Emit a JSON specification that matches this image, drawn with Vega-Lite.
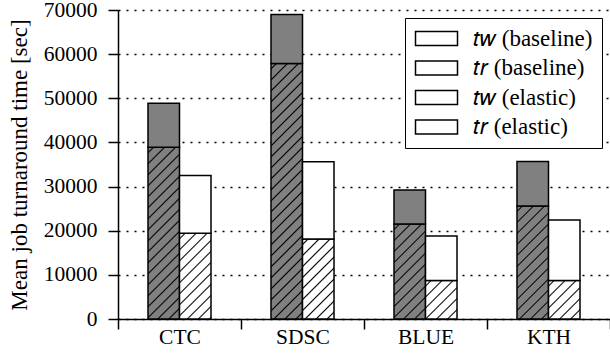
{
  "$schema": "https://vega.github.io/schema/vega-lite/v6.json",
  "width": 492,
  "height": 309,
  "autosize": {"type": "none"},
  "padding": {"left": 118, "top": 10, "right": 0, "bottom": 37},
  "params": [
    {"name": "hatch", "value": [
      {"offset":0.0133,"color":"rgba(0,0,0,0)"},{"offset":0.0183,"color":"#000"},{"offset":0.0233,"color":"rgba(0,0,0,0)"},
      {"offset":0.05,"color":"rgba(0,0,0,0)"},{"offset":0.055,"color":"#000"},{"offset":0.06,"color":"rgba(0,0,0,0)"},
      {"offset":0.0867,"color":"rgba(0,0,0,0)"},{"offset":0.0917,"color":"#000"},{"offset":0.0967,"color":"rgba(0,0,0,0)"},
      {"offset":0.1233,"color":"rgba(0,0,0,0)"},{"offset":0.1283,"color":"#000"},{"offset":0.1333,"color":"rgba(0,0,0,0)"},
      {"offset":0.16,"color":"rgba(0,0,0,0)"},{"offset":0.165,"color":"#000"},{"offset":0.17,"color":"rgba(0,0,0,0)"},
      {"offset":0.1967,"color":"rgba(0,0,0,0)"},{"offset":0.2017,"color":"#000"},{"offset":0.2067,"color":"rgba(0,0,0,0)"},
      {"offset":0.2333,"color":"rgba(0,0,0,0)"},{"offset":0.2383,"color":"#000"},{"offset":0.2433,"color":"rgba(0,0,0,0)"},
      {"offset":0.27,"color":"rgba(0,0,0,0)"},{"offset":0.275,"color":"#000"},{"offset":0.28,"color":"rgba(0,0,0,0)"},
      {"offset":0.3067,"color":"rgba(0,0,0,0)"},{"offset":0.3117,"color":"#000"},{"offset":0.3167,"color":"rgba(0,0,0,0)"},
      {"offset":0.3433,"color":"rgba(0,0,0,0)"},{"offset":0.3483,"color":"#000"},{"offset":0.3533,"color":"rgba(0,0,0,0)"},
      {"offset":0.38,"color":"rgba(0,0,0,0)"},{"offset":0.385,"color":"#000"},{"offset":0.39,"color":"rgba(0,0,0,0)"},
      {"offset":0.4167,"color":"rgba(0,0,0,0)"},{"offset":0.4217,"color":"#000"},{"offset":0.4267,"color":"rgba(0,0,0,0)"},
      {"offset":0.4533,"color":"rgba(0,0,0,0)"},{"offset":0.4583,"color":"#000"},{"offset":0.4633,"color":"rgba(0,0,0,0)"},
      {"offset":0.49,"color":"rgba(0,0,0,0)"},{"offset":0.495,"color":"#000"},{"offset":0.5,"color":"rgba(0,0,0,0)"},
      {"offset":0.5267,"color":"rgba(0,0,0,0)"},{"offset":0.5317,"color":"#000"},{"offset":0.5367,"color":"rgba(0,0,0,0)"},
      {"offset":0.5633,"color":"rgba(0,0,0,0)"},{"offset":0.5683,"color":"#000"},{"offset":0.5733,"color":"rgba(0,0,0,0)"},
      {"offset":0.6,"color":"rgba(0,0,0,0)"},{"offset":0.605,"color":"#000"},{"offset":0.61,"color":"rgba(0,0,0,0)"},
      {"offset":0.6367,"color":"rgba(0,0,0,0)"},{"offset":0.6417,"color":"#000"},{"offset":0.6467,"color":"rgba(0,0,0,0)"},
      {"offset":0.6733,"color":"rgba(0,0,0,0)"},{"offset":0.6783,"color":"#000"},{"offset":0.6833,"color":"rgba(0,0,0,0)"},
      {"offset":0.71,"color":"rgba(0,0,0,0)"},{"offset":0.715,"color":"#000"},{"offset":0.72,"color":"rgba(0,0,0,0)"},
      {"offset":0.7467,"color":"rgba(0,0,0,0)"},{"offset":0.7517,"color":"#000"},{"offset":0.7567,"color":"rgba(0,0,0,0)"},
      {"offset":0.7833,"color":"rgba(0,0,0,0)"},{"offset":0.7883,"color":"#000"},{"offset":0.7933,"color":"rgba(0,0,0,0)"},
      {"offset":0.82,"color":"rgba(0,0,0,0)"},{"offset":0.825,"color":"#000"},{"offset":0.83,"color":"rgba(0,0,0,0)"},
      {"offset":0.8567,"color":"rgba(0,0,0,0)"},{"offset":0.8617,"color":"#000"},{"offset":0.8667,"color":"rgba(0,0,0,0)"},
      {"offset":0.8933,"color":"rgba(0,0,0,0)"},{"offset":0.8983,"color":"#000"},{"offset":0.9033,"color":"rgba(0,0,0,0)"},
      {"offset":0.93,"color":"rgba(0,0,0,0)"},{"offset":0.935,"color":"#000"},{"offset":0.94,"color":"rgba(0,0,0,0)"},
      {"offset":0.9667,"color":"rgba(0,0,0,0)"},{"offset":0.9717,"color":"#000"},{"offset":0.9767,"color":"rgba(0,0,0,0)"}
    ]},
    {"name": "hatchG", "value": [
      {"offset":0.0133,"color":"#808080"},{"offset":0.0183,"color":"#000"},{"offset":0.0233,"color":"#808080"},
      {"offset":0.05,"color":"#808080"},{"offset":0.055,"color":"#000"},{"offset":0.06,"color":"#808080"},
      {"offset":0.0867,"color":"#808080"},{"offset":0.0917,"color":"#000"},{"offset":0.0967,"color":"#808080"},
      {"offset":0.1233,"color":"#808080"},{"offset":0.1283,"color":"#000"},{"offset":0.1333,"color":"#808080"},
      {"offset":0.16,"color":"#808080"},{"offset":0.165,"color":"#000"},{"offset":0.17,"color":"#808080"},
      {"offset":0.1967,"color":"#808080"},{"offset":0.2017,"color":"#000"},{"offset":0.2067,"color":"#808080"}
    ]},
    {"name": "hatchW", "value": [
      {"offset":0.0133,"color":"#ffffff"},{"offset":0.0183,"color":"#000"},{"offset":0.0233,"color":"#ffffff"},
      {"offset":0.05,"color":"#ffffff"},{"offset":0.055,"color":"#000"},{"offset":0.06,"color":"#ffffff"},
      {"offset":0.0867,"color":"#ffffff"},{"offset":0.0917,"color":"#000"},{"offset":0.0967,"color":"#ffffff"},
      {"offset":0.1233,"color":"#ffffff"},{"offset":0.1283,"color":"#000"},{"offset":0.1333,"color":"#ffffff"},
      {"offset":0.16,"color":"#ffffff"},{"offset":0.165,"color":"#000"},{"offset":0.17,"color":"#ffffff"},
      {"offset":0.1967,"color":"#ffffff"},{"offset":0.2017,"color":"#000"},{"offset":0.2067,"color":"#ffffff"}
    ]}
  ],
  "data": {"values": [
    {"site":"CTC","run":"baseline","part":"tw","series":"𝑡𝑤 (baseline)","value":38900},
    {"site":"CTC","run":"baseline","part":"tr","series":"𝑡𝑟 (baseline)","value":10000},
    {"site":"CTC","run":"elastic","part":"tw","series":"𝑡𝑤 (elastic)","value":19400},
    {"site":"CTC","run":"elastic","part":"tr","series":"𝑡𝑟 (elastic)","value":13100},
    {"site":"SDSC","run":"baseline","part":"tw","series":"𝑡𝑤 (baseline)","value":57900},
    {"site":"SDSC","run":"baseline","part":"tr","series":"𝑡𝑟 (baseline)","value":11100},
    {"site":"SDSC","run":"elastic","part":"tw","series":"𝑡𝑤 (elastic)","value":18100},
    {"site":"SDSC","run":"elastic","part":"tr","series":"𝑡𝑟 (elastic)","value":17500},
    {"site":"BLUE","run":"baseline","part":"tw","series":"𝑡𝑤 (baseline)","value":21500},
    {"site":"BLUE","run":"baseline","part":"tr","series":"𝑡𝑟 (baseline)","value":7700},
    {"site":"BLUE","run":"elastic","part":"tw","series":"𝑡𝑤 (elastic)","value":8700},
    {"site":"BLUE","run":"elastic","part":"tr","series":"𝑡𝑟 (elastic)","value":10100},
    {"site":"KTH","run":"baseline","part":"tw","series":"𝑡𝑤 (baseline)","value":25600},
    {"site":"KTH","run":"baseline","part":"tr","series":"𝑡𝑟 (baseline)","value":10100},
    {"site":"KTH","run":"elastic","part":"tw","series":"𝑡𝑤 (elastic)","value":8700},
    {"site":"KTH","run":"elastic","part":"tr","series":"𝑡𝑟 (elastic)","value":13700}
  ]},
  "encoding": {
    "x": {
      "field": "site", "type": "nominal", "sort": ["CTC","SDSC","BLUE","KTH"],
      "scale": {"paddingInner": 0, "paddingOuter": 0},
      "axis": {"title": null, "labelAngle": 0, "tickBand": "extent", "tickSize": 10, "tickColor": "black", "tickWidth": 1.5,
               "domainColor": "black", "domainWidth": 1.5, "labelFont": "Liberation Serif", "labelFontSize": 21.5,
               "labelColor": "black", "labelPadding": -3, "grid": false}
    },
    "xOffset": {"field": "run", "type": "nominal", "sort": ["baseline","elastic"], "scale": {"paddingInner": 0, "paddingOuter": 0.952}},
    "y": {
      "field": "value", "type": "quantitative",
      "scale": {"domain": [0, 70000], "nice": false},
      "axis": {"title": "Mean job turnaround time [sec]", "values": [0,10000,20000,30000,40000,50000,60000,70000], "format": "d",
               "tickSize": 10, "tickColor": "black", "tickWidth": 1.5, "domainColor": "black", "domainWidth": 1.5,
               "labelFont": "Liberation Serif", "labelFontSize": 21.5, "labelColor": "black", "labelPadding": 11,
               "grid": true, "gridDash": [2, 6], "gridColor": "black", "gridWidth": 1.3, "gridOpacity": 1,
               "titleFont": "Liberation Serif", "titleFontSize": 23, "titleFontWeight": "normal", "titleColor": "black", "titlePadding": 12}
    }
  },
  "layer": [
    {
      "mark": {"type": "bar", "strokeWidth": 1.5},
      "encoding": {
        "fill": {"condition": {"test": "datum.run == 'baseline'", "value": "#808080"}, "value": "#ffffff"},
        "stroke": {
          "field": "series", "type": "nominal",
          "scale": {"domain": ["𝑡𝑤 (baseline)","𝑡𝑟 (baseline)","𝑡𝑤 (elastic)","𝑡𝑟 (elastic)"], "range": ["#000000","#000000","#000000","#000000"]},
          "legend": {
            "title": null, "orient": "top-right", "offset": 8, "fillColor": "white", "strokeColor": "black", "padding": 9,
            "labelFont": "Liberation Serif", "labelFontSize": 23, "labelColor": "black", "labelOffset": 25, "labelLimit": 300,
            "symbolType": "M-3,-1H3V1H-3Z", "symbolSize": 196, "symbolOffset": 11, "symbolStrokeColor": "black", "symbolStrokeWidth": 1.5,
            "symbolFillColor": {"expr": "datum.value === '𝑡𝑤 (baseline)' ? {gradient:'linear',x1:0,y1:0,x2:6.4286,y2:2.1429,stops:hatchG} : datum.value === '𝑡𝑟 (baseline)' ? '#808080' : datum.value === '𝑡𝑤 (elastic)' ? {gradient:'linear',x1:0,y1:0,x2:6.4286,y2:2.1429,stops:hatchW} : '#ffffff'"},
            "rowPadding": 5.5,
            "encode": {
              "legend": {"update": {"strokeWidth": {"value": 1.5}}},
              "symbols": {"update": {
                "fill": {"signal": "datum.value === '𝑡𝑤 (baseline)' ? {gradient:'linear',x1:0,y1:0,x2:6.4286,y2:2.1429,stops:hatchG} : datum.value === '𝑡𝑟 (baseline)' ? '#808080' : datum.value === '𝑡𝑤 (elastic)' ? {gradient:'linear',x1:0,y1:0,x2:6.4286,y2:2.1429,stops:hatchW} : '#ffffff'"},
                "fillOpacity": {"value": 1},
                "strokeWidth": {"value": 1.5},
                "opacity": {"value": 1}
              }}
            }
          }
        },
        "order": {"field": "part", "sort": "descending"}
      }
    },
    {
      "transform": [{"filter": "datum.part == 'tw'"}],
      "mark": {
        "type": "bar", "strokeWidth": 0,
        "fill": {"expr": "{gradient:'linear',x1:0,y1:0,x2:31.5*300/(31.5*31.5+pow(scale('y',0)-scale('y',datum.value),2)),y2:(scale('y',0)-scale('y',datum.value))*300/(31.5*31.5+pow(scale('y',0)-scale('y',datum.value),2)),stops:hatch}"}
      }
    }
  ],
  "config": {"view": {"stroke": null}, "font": "Liberation Serif"}
}
